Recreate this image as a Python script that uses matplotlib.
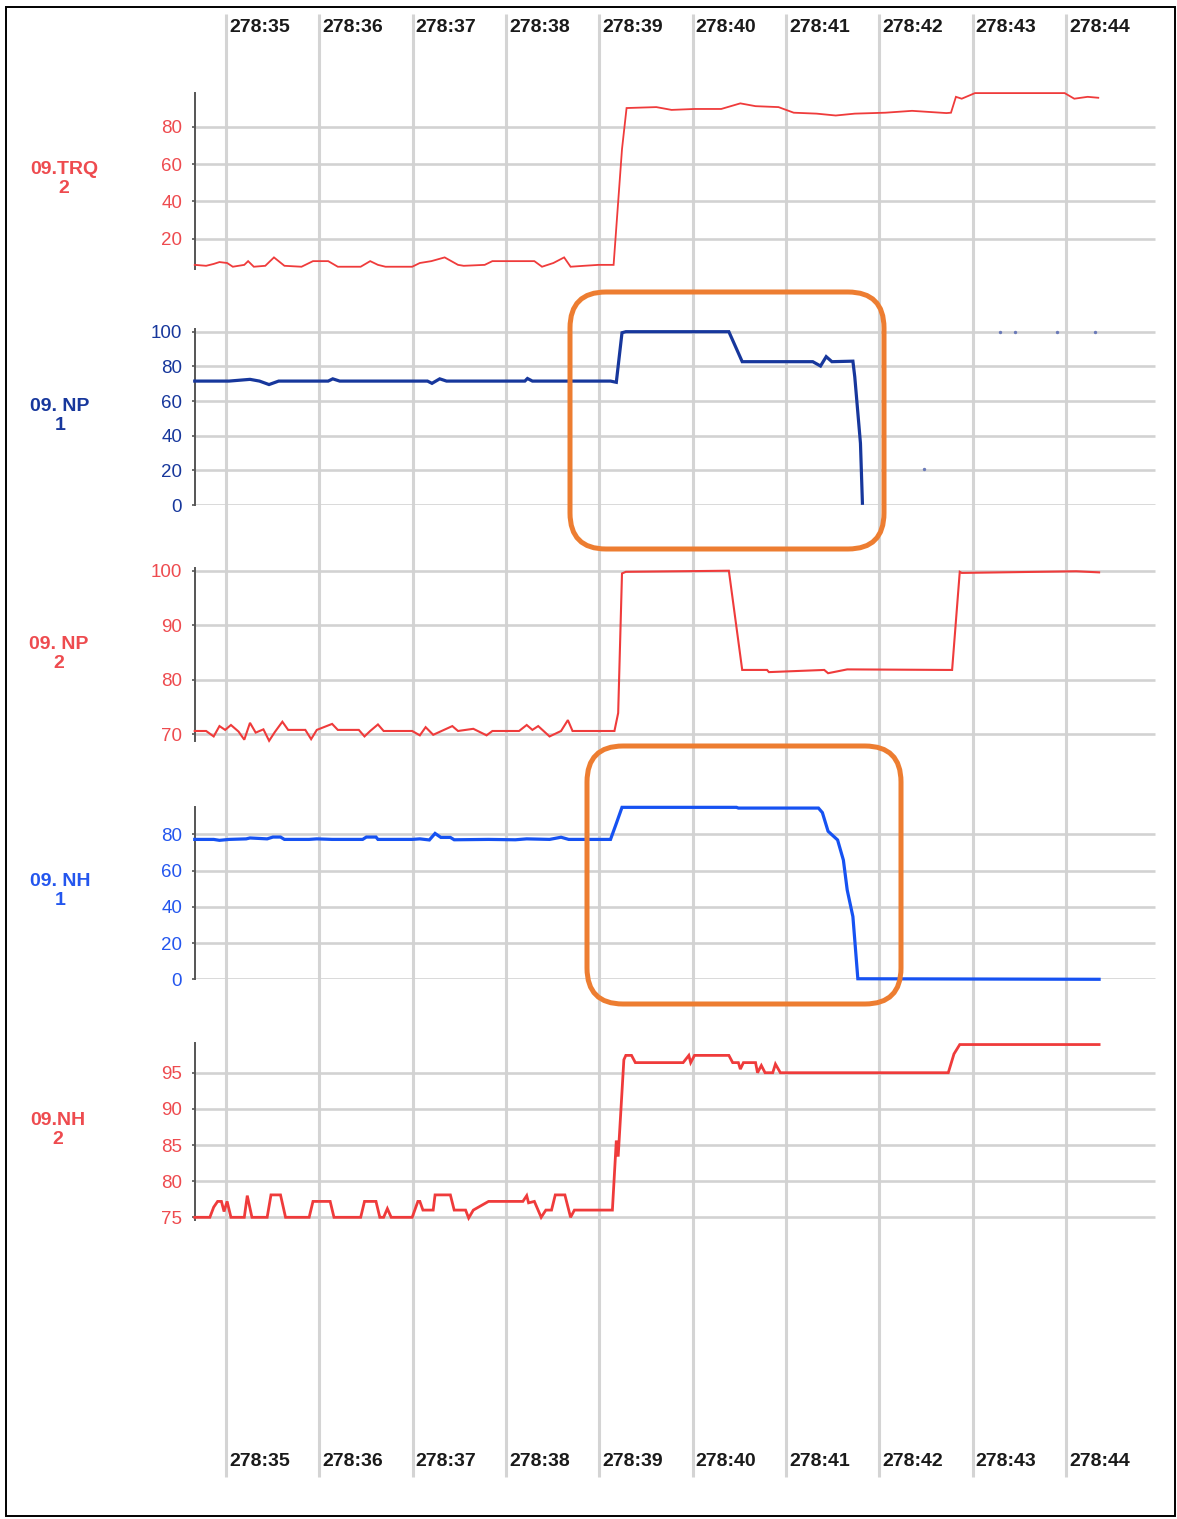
import matplotlib
matplotlib.use("Agg")
import matplotlib.pyplot as plt
from matplotlib.patches import FancyBboxPatch, Rectangle

plt.rcParams['font.family'] = ['Liberation Sans', 'DejaVu Sans']

W, H = 1177, 1519

# time axis: minutes after 278:35
time_labels = ['278:35', '278:36', '278:37', '278:38', '278:39',
               '278:40', '278:41', '278:42', '278:43', '278:44']
time_pos = [0, 1, 2, 3, 4, 5, 6, 7, 8, 9]

# ---- 09.TRQ 2 ----
trq_t = [-0.335, -0.213, -0.132, -0.070, 0.012, 0.073, 0.196, 0.237, 0.298, 0.421,
         0.514, 0.626, 0.809, 0.932, 1.095, 1.198, 1.443, 1.545, 1.628, 1.709,
         1.995, 2.077, 2.200, 2.343, 2.486, 2.547, 2.772, 2.854, 3.304, 3.386,
         3.508, 3.623, 3.692, 3.836, 3.991,
         4.153, 4.182, 4.243, 4.292, 4.611, 4.774, 5.020, 5.306, 5.511, 5.674,
         5.920, 6.083, 6.328, 6.533, 6.737, 7.064, 7.351, 7.719, 7.768, 7.821,
         7.883, 8.025, 8.986, 9.089, 9.232, 9.346]
trq_v = [6, 5.5, 6.5, 7.5, 7, 5, 6, 8, 5, 5.5,
         10, 5.5, 5, 8, 8, 5, 5, 8, 6, 5,
         5, 7, 8, 10, 6, 5.5, 6, 8, 8, 5,
         7, 10, 5, 5.5, 6,
         6, 26, 68, 90, 90.5, 89, 89.5, 89.5, 92.5, 91,
         90.5, 87.5, 87, 86, 87, 87.5, 88.5, 87.3, 87.5, 96,
         95, 98, 98, 95, 96, 95.5]

# ---- 09. NP 1 ----
np1_t = [-0.335, 0.032, 0.257, 0.359, 0.461, 0.564, 1.095, 1.144, 1.218, 2.159,
         2.207, 2.290, 2.363, 3.202, 3.230, 3.283, 4.120, 4.182, 4.243, 4.284,
         5.388, 5.531, 6.287, 6.370, 6.431, 6.492, 6.717, 6.737, 6.798, 6.819]
np1_v = [71.5, 71.5, 72.5, 71.5, 69.5, 71.5, 71.5, 72.8, 71.5, 71.5,
         70.2, 72.8, 71.5, 71.5, 73, 71.5, 71.5, 70.8, 99.4, 100,
         100, 82.7, 82.7, 80.2, 85.6, 82.7, 83.0, 74, 35.6, 1]
np1_dots_t = [7.482, 8.291, 8.454, 8.904, 9.311]
np1_dots_v = [20.8, 100, 100, 100, 100]

# ---- 09. NP 2 ----
np2_t = [-0.335, -0.213, -0.132, -0.070, -0.009, 0.053, 0.134, 0.196, 0.257, 0.318,
         0.401, 0.462, 0.523, 0.604, 0.666, 0.850, 0.912, 0.973, 1.137, 1.198,
         1.423, 1.484, 1.545, 1.628, 1.689, 1.995, 2.077, 2.139, 2.220, 2.425,
         2.486, 2.650, 2.792, 2.854, 3.140, 3.222, 3.283, 3.345, 3.467, 3.590,
         3.663, 3.713, 3.991, 4.162, 4.202, 4.243, 4.284, 5.388, 5.531, 5.797,
         5.817, 6.410, 6.451, 6.656, 7.719, 7.780, 7.862, 7.883, 9.110, 9.355]
np2_v = [70.6, 70.6, 69.6, 71.5, 70.8, 71.7, 70.5, 69.0, 72.1, 70.3,
         70.9, 68.8, 70.4, 72.3, 70.8, 70.8, 69.1, 70.8, 71.9, 70.8,
         70.8, 69.6, 70.6, 71.8, 70.6, 70.6, 69.8, 71.3, 69.9, 71.5,
         70.6, 71.0, 69.8, 70.6, 70.6, 71.7, 70.8, 71.5, 69.6, 70.6,
         72.6, 70.6, 70.6, 70.6, 73.9, 99.5, 99.8, 100, 81.8, 81.8,
         81.4, 81.8, 81.2, 81.9, 81.8, 81.8, 99.8, 99.6, 99.9, 99.7]

# ---- 09. NH 1 ----
nh1_t = [-0.335, -0.132, -0.070, 0.032, 0.216, 0.257, 0.441, 0.503, 0.584, 0.626,
         0.891, 0.973, 1.137, 1.464, 1.504, 1.607, 1.628, 1.995, 2.077, 2.179,
         2.240, 2.302, 2.404, 2.445, 2.813, 3.100, 3.222, 3.467, 3.590, 3.672,
         3.991, 4.120, 4.182, 4.243, 5.470, 5.490, 6.348, 6.390, 6.451, 6.553,
         6.615, 6.656, 6.717, 6.737, 6.770, 9.355]
nh1_v = [77.2, 77.2, 76.7, 77.2, 77.5, 78.0, 77.5, 78.5, 78.5, 77.2,
         77.2, 77.5, 77.2, 77.2, 78.5, 78.5, 77.2, 77.2, 77.5, 76.9,
         80.5, 78.3, 78.3, 77.0, 77.2, 77.0, 77.5, 77.2, 78.4, 77.2,
         77.2, 77.2, 86, 94.9, 94.9, 94.5, 94.5, 92, 81.7, 76.9,
         65.8, 49.3, 34.6, 21.7, 0.3, 0]

# ---- 09.NH 2 ----
nh2_t = [-0.335, -0.173, -0.132, -0.090, -0.049, -0.021, 0.012, 0.053, 0.196, 0.228,
         0.278, 0.441, 0.482, 0.584, 0.638, 0.891, 0.932, 1.116, 1.157, 1.443,
         1.484, 1.607, 1.648, 1.689, 1.729, 1.770, 1.995, 2.056, 2.077, 2.110,
         2.220, 2.240, 2.404, 2.445, 2.567, 2.600, 2.650, 2.813, 3.181, 3.222,
         3.242, 3.304, 3.377, 3.427, 3.488, 3.528, 3.631, 3.692, 3.733, 3.991,
         4.140, 4.182, 4.202, 4.263, 4.284, 4.345, 4.386, 4.898, 4.959, 4.979,
         5.020, 5.388, 5.429, 5.490, 5.511, 5.544, 5.674, 5.695, 5.736, 5.776,
         5.858, 5.887, 5.940, 7.739, 7.800, 7.862, 9.355]
nh2_v = [75, 75, 76.4, 77.2, 77.2, 75.8, 77.2, 75, 75, 78,
         75, 75, 78.1, 78.1, 75, 75, 77.2, 77.2, 75, 75,
         77.2, 77.2, 75, 75, 76.2, 75, 75, 77.2, 77.2, 76.0,
         76.0, 78.1, 78.1, 76.0, 76.0, 74.9, 76.0, 77.2, 77.2, 78.0,
         77.0, 77.2, 75.0, 76.0, 76.0, 78.1, 78.1, 75.0, 76.0, 76.0,
         76.0, 85.6, 83.4, 96.8, 97.4, 97.4, 96.4, 96.4, 97.4, 96.4,
         97.4, 97.4, 96.4, 96.4, 95.5, 96.4, 96.4, 95.0, 96.0, 95.0,
         95.0, 96.2, 95.0, 95.0, 97.6, 98.9, 98.9]

RED = '#ef3b3b'
RED_TXT = '#ee4b4f'
NAVY = '#17379c'
BLUE = '#1652f2'
BLUE_TXT = '#2456ee'

# pixel layout of the time axis
PX0, PX_MIN = 226.0, 93.33
t_left, t_right = -PX0 / PX_MIN, (W - PX0) / PX_MIN
t_start, t_grid_end = -0.335, 9.954

panels = [
    dict(name='09.TRQ\n2', t=trq_t, v=trq_v, color=RED, tc=RED_TXT, lw=1.3,
         ticks=[20, 40, 60, 80], ylim=(4, 98), py=(268.6, 93.1), name_xy=(64, 179)),
    dict(name='09. NP\n1', t=np1_t, v=np1_v, color=NAVY, tc=NAVY, lw=2.3,
         ticks=[0, 20, 40, 60, 80, 100], ylim=(0, 101.5), py=(505.0, 329.1), name_xy=(60, 416)),
    dict(name='09. NP\n2', t=np2_t, v=np2_v, color=RED, tc=RED_TXT, lw=1.5,
         ticks=[70, 80, 90, 100], ylim=(68.8, 100.5), py=(740.8, 568.0), name_xy=(59, 654)),
    dict(name='09. NH\n1', t=nh1_t, v=nh1_v, color=BLUE, tc=BLUE_TXT, lw=2.3,
         ticks=[0, 20, 40, 60, 80], ylim=(0, 95.2), py=(979.3, 806.8), name_xy=(60, 891)),
    dict(name='09.NH\n2', t=nh2_t, v=nh2_v, color=RED, tc=RED_TXT, lw=2.0,
         ticks=[75, 80, 85, 90, 95], ylim=(74.6, 99.1), py=(1220.2, 1043.1), name_xy=(58, 1130)),
]

fig = plt.figure(figsize=(W / 100, H / 100), dpi=100)

# background: vertical gridlines and time labels
ax_bg = fig.add_axes([0, 0, 1, 1])
ax_bg.set_xlim(t_left, t_right)
ax_bg.set_ylim(H, 0)
ax_bg.axis('off')
ax_bg.vlines(time_pos, 14, 1477, color='#d4d4d4', lw=2.2, zorder=0)
for tp, lbl in zip(time_pos, time_labels):
    for yy in (27, 1461):
        ax_bg.annotate(lbl, (tp, yy), xytext=(2.2, 0), textcoords='offset points',
                       ha='left', va='center', fontsize=14, fontweight='bold',
                       color='#1a1a1a')

for p in panels:
    lo, hi = p['py']
    ax = fig.add_axes([0, 1 - lo / H, 1, (lo - hi) / H])
    ax.set_facecolor('none')
    ax.set_xlim(t_left, t_right)
    ax.set_ylim(*p['ylim'])
    for s in ('top', 'right', 'bottom'):
        ax.spines[s].set_visible(False)
    ax.spines['left'].set_position(('data', t_start))
    ax.spines['left'].set_color('#555555')
    ax.spines['left'].set_linewidth(1.4)
    ax.xaxis.set_visible(False)
    ax.set_yticks(p['ticks'])
    ax.tick_params(axis='y', direction='out', length=2.5, width=1.2, color='#555555',
                   labelsize=13.5, labelcolor=p['tc'], pad=6.5)
    ax.hlines(p['ticks'], t_start, t_grid_end, color='#d2d2d2', lw=1.9, zorder=1)
    ax.plot(p['t'], p['v'], color=p['color'], lw=p['lw'], clip_on=False, zorder=3,
            solid_joinstyle='miter')
    if p['name'] == '09. NP\n1':
        ax.scatter(np1_dots_t, np1_dots_v, s=2, color='#6a7ab8', zorder=3, clip_on=False)

# overlay: frame, names and highlight boxes
ax_ov = fig.add_axes([0, 0, 1, 1])
ax_ov.set_xlim(0, W)
ax_ov.set_ylim(H, 0)
ax_ov.axis('off')
ax_ov.set_facecolor('none')
ax_ov.add_patch(Rectangle((6, 7), 1169, 1509, fill=False, ec='black', lw=1.4))
for p in panels:
    ax_ov.text(p['name_xy'][0], p['name_xy'][1], p['name'], ha='center', va='center',
               fontsize=14, fontweight='bold', color=p['tc'], linespacing=1.15)
for (x0, y0, x1, y1) in [(570, 292, 884, 549), (587, 746, 901, 1004)]:
    ax_ov.add_patch(FancyBboxPatch((x0, y0), x1 - x0, y1 - y0,
                                   boxstyle='round,pad=0,rounding_size=36',
                                   fill=False, ec='#ed7d31', lw=3.6, zorder=10))

fig.savefig('out.png', dpi=100)
